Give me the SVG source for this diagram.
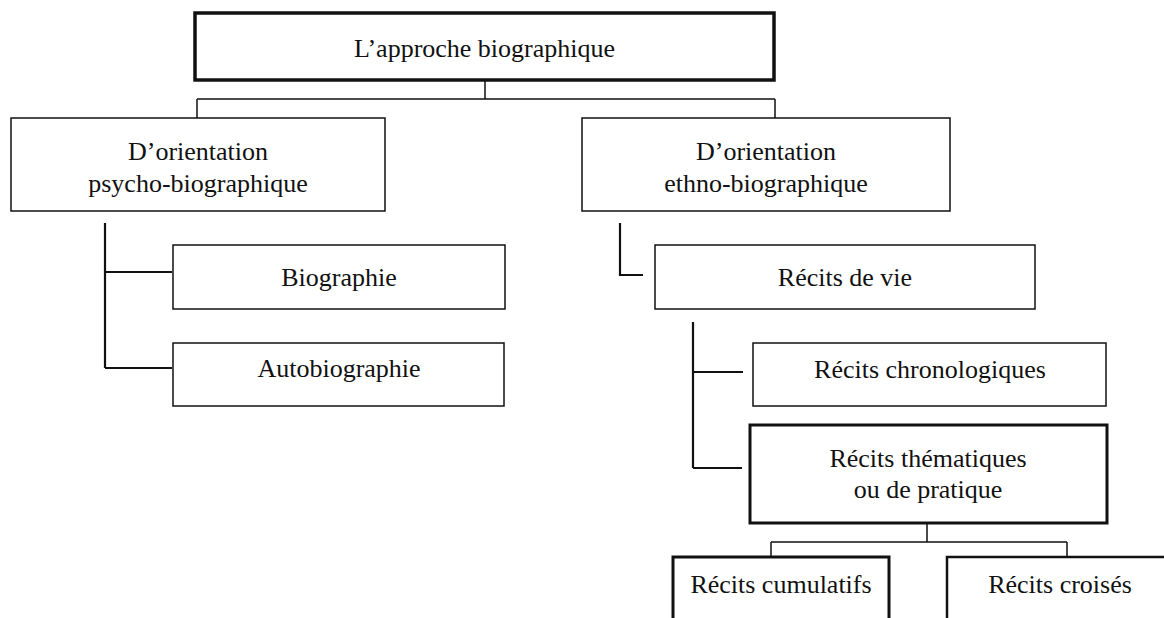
<svg xmlns="http://www.w3.org/2000/svg" width="1164" height="618" viewBox="0 0 1164 618">
<style>
  .box { fill: #ffffff; stroke: #111111; stroke-width: 1.5; }
  .thick { stroke-width: 3.5; }
  .mid { stroke-width: 3; }
  .lbl { font-family: "Liberation Serif", "Times New Roman", serif; font-size: 26px; fill: #111111; text-anchor: middle; }
  .con { fill: none; stroke: #111111; stroke-width: 1.5; }
  .tree { fill: none; stroke: #111111; stroke-width: 2.2; }
</style>
<rect width="1164" height="618" fill="#ffffff"/>
<g id="connectors">
  <path class="con" d="M485 80 V99 M197 99 H775 M197 99 V118 M775 99 V118"/>
  <path class="tree" d="M105 223 V368 M105 272 H172 M105 368 H172"/>
  <path class="tree" d="M620 223 V275 H643"/>
  <path class="tree" d="M693 322 V468 M693 372 H743 M693 468 H742"/>
  <path class="con" d="M927 523 V542 M771 542 H1067 M771 542 V557 M1067 542 V557"/>
</g>
<g id="n-approche">
  <rect class="box thick" x="195" y="13" width="579" height="67"/>
  <text class="lbl" x="484.5" y="57">L’approche biographique</text>
</g>
<g id="n-psycho">
  <rect class="box" x="11" y="118" width="374" height="93"/>
  <text class="lbl" x="198" y="160">D’orientation</text>
  <text class="lbl" x="198" y="192">psycho-biographique</text>
</g>
<g id="n-ethno">
  <rect class="box" x="582" y="118" width="368" height="93"/>
  <text class="lbl" x="766" y="160">D’orientation</text>
  <text class="lbl" x="766" y="192">ethno-biographique</text>
</g>
<g id="n-biographie">
  <rect class="box" x="173" y="245" width="332" height="64"/>
  <text class="lbl" x="339" y="286">Biographie</text>
</g>
<g id="n-autobiographie">
  <rect class="box" x="173" y="343" width="331" height="63"/>
  <text class="lbl" x="339" y="377">Autobiographie</text>
</g>
<g id="n-recits-vie">
  <rect class="box" x="655" y="245" width="380" height="64"/>
  <text class="lbl" x="845" y="286">Récits de vie</text>
</g>
<g id="n-chronologiques">
  <rect class="box" x="753" y="343" width="353" height="63"/>
  <text class="lbl" x="930" y="378">Récits chronologiques</text>
</g>
<g id="n-thematiques">
  <rect class="box mid" x="750" y="425" width="357" height="98"/>
  <text class="lbl" x="928" y="467">Récits thématiques</text>
  <text class="lbl" x="928" y="498">ou de pratique</text>
</g>
<g id="n-cumulatifs">
  <path class="box mid" d="M673 620 V557 H889 V620"/>
  <text class="lbl" x="781" y="593">Récits cumulatifs</text>
</g>
<g id="n-croises">
  <path class="box" style="stroke-width:2.5" d="M947 620 V557 H1166"/>
  <text class="lbl" x="1060" y="593">Récits croisés</text>
</g>
</svg>
